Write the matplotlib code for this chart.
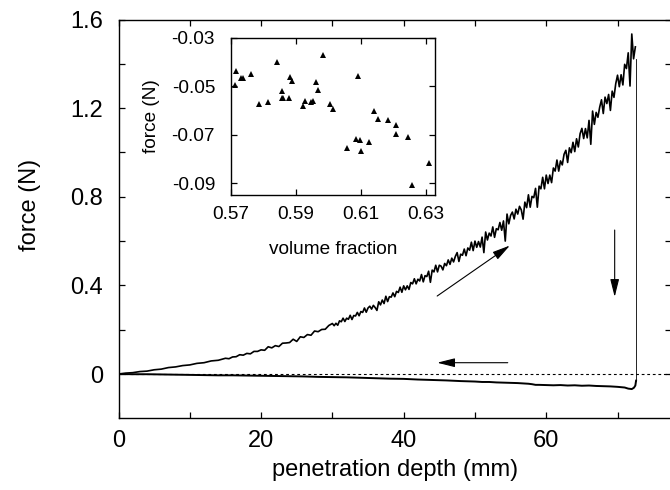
import numpy as np
import matplotlib
matplotlib.use('Agg')
import matplotlib.pyplot as plt

plt.rcParams['font.family'] = ['Liberation Sans', 'DejaVu Sans']

# loading (penetration) curve
depth_load = np.concatenate([np.arange(0, 15, 1.0),
                             np.arange(15, 30, 0.5),
                             np.arange(30, 72.51, 0.25)])
force_load = [
    0.000, 0.004, 0.006, 0.011, 0.013, 0.019, 0.022, 0.029, 0.032, 0.038,
    0.041, 0.048, 0.051, 0.059, 0.062,
    0.071, 0.069, 0.077, 0.078, 0.087, 0.085, 0.093, 0.091, 0.102, 0.102,
    0.109, 0.107, 0.123, 0.118, 0.128, 0.124, 0.139, 0.140, 0.142, 0.157,
    0.147, 0.168, 0.165, 0.178, 0.175, 0.194, 0.191, 0.201, 0.202, 0.219,
    0.228, 0.218, 0.229, 0.220, 0.240, 0.236, 0.252, 0.237, 0.252, 0.247,
    0.265, 0.246, 0.264, 0.262, 0.278, 0.263, 0.282, 0.278, 0.298, 0.279,
    0.298, 0.306, 0.293, 0.310, 0.300, 0.287, 0.326, 0.312, 0.334, 0.318,
    0.351, 0.327, 0.349, 0.347, 0.366, 0.349, 0.373, 0.368, 0.392, 0.369,
    0.398, 0.380, 0.398, 0.382, 0.413, 0.407, 0.430, 0.407, 0.428, 0.420,
    0.449, 0.416, 0.444, 0.440, 0.464, 0.414, 0.469, 0.461, 0.491, 0.461,
    0.491, 0.487, 0.470, 0.499, 0.489, 0.515, 0.495, 0.523, 0.506, 0.531,
    0.548, 0.508, 0.541, 0.536, 0.564, 0.534, 0.569, 0.559, 0.595, 0.557,
    0.600, 0.572, 0.598, 0.573, 0.618, 0.548, 0.641, 0.605, 0.636, 0.623,
    0.664, 0.617, 0.656, 0.651, 0.684, 0.649, 0.691, 0.600, 0.722, 0.678,
    0.716, 0.731, 0.700, 0.744, 0.722, 0.757, 0.741, 0.699, 0.776, 0.751,
    0.809, 0.753, 0.802, 0.796, 0.838, 0.753, 0.848, 0.836, 0.888, 0.836,
    0.898, 0.860, 0.898, 0.864, 0.930, 0.916, 0.966, 0.916, 0.962, 0.944,
    0.992, 1.010, 0.955, 1.021, 0.999, 1.046, 1.004, 1.062, 1.025, 1.085,
    1.109, 1.063, 1.108, 1.066, 1.145, 1.037, 1.187, 1.127, 1.181, 1.159,
    1.205, 1.238, 1.176, 1.250, 1.221, 1.262, 1.190, 1.277, 1.249, 1.311,
    1.349, 1.297, 1.351, 1.305, 1.398, 1.379, 1.450, 1.300, 1.535, 1.423,
    1.477,
]

# sudden drop at the turning point
drop_depth = [72.6, 72.6]
drop_force = [1.42, -0.03]

# withdrawal curve
depth_back = [72.6, 72.5, 72.3, 72.0, 71.5, 71.0, 70.0, 69.0, 68.0, 67.0,
              66.0, 65.0, 64.0, 63.0, 62.0, 61.0, 60.0, 59.0, 58.5, 58.0,
              57.5, 57.0, 56.0, 55.0, 54.0, 53.0, 52.0, 51.0, 50.0, 48.0,
              46.0, 44.0, 42.0, 40.0, 38.0, 36.0, 34.0, 32.0, 30.0, 28.0,
              26.0, 24.0, 22.0, 20.0, 18.0, 16.0, 14.0, 12.0, 10.0, 8.0,
              6.0, 4.0, 2.0, 0.0]
force_back = [-0.030, -0.052, -0.062, -0.068, -0.066, -0.061, -0.058, -0.056,
              -0.055, -0.054, -0.052, -0.053, -0.051, -0.052, -0.050, -0.051,
              -0.050, -0.049, -0.049, -0.046, -0.044, -0.043, -0.041, -0.040,
              -0.039, -0.038, -0.036, -0.036, -0.034, -0.032, -0.029, -0.027,
              -0.025, -0.022, -0.021, -0.019, -0.017, -0.015, -0.014, -0.013,
              -0.011, -0.010, -0.009, -0.008, -0.007, -0.006, -0.006, -0.005,
              -0.004, -0.003, -0.002, -0.001, -0.001, 0.000]

# inset: force vs volume fraction
vol_frac = [0.5715, 0.5712, 0.5731, 0.5736, 0.5761, 0.5785, 0.5814, 0.5843,
            0.5858, 0.5856, 0.5861, 0.5878, 0.5883, 0.5888, 0.5921, 0.5927,
            0.5948, 0.5954, 0.5961, 0.5967, 0.5983, 0.6006, 0.6015, 0.6059,
            0.6085, 0.6092, 0.6097, 0.6102, 0.6126, 0.6142, 0.6154, 0.6183,
            0.6208, 0.6208, 0.6247, 0.6257, 0.6312]
inset_force = [-0.0437, -0.0493, -0.0468, -0.0464, -0.0450, -0.0574, -0.0565,
               -0.0402, -0.0519, -0.0548, -0.0548, -0.0548, -0.0461, -0.0479,
               -0.0581, -0.0559, -0.0565, -0.0561, -0.0483, -0.0515, -0.0370,
               -0.0572, -0.0594, -0.0754, -0.0718, -0.0459, -0.0723, -0.0768,
               -0.0729, -0.0601, -0.0635, -0.0641, -0.0659, -0.0697, -0.0708,
               -0.0905, -0.0817]

main_xticks = [0, 20, 40, 60]
main_yticks = [0, 0.4, 0.8, 1.2, 1.6]
main_ylabels = ['0', '0.4', '0.8', '1.2', '1.6']
inset_xticks = [0.57, 0.59, 0.61, 0.63]
inset_xlabels = ['0.57', '0.59', '0.61', '0.63']
inset_yticks = [-0.03, -0.05, -0.07, -0.09]
inset_ylabels = ['-0.03', '-0.05', '-0.07', '-0.09']

fig = plt.figure(figsize=(6.7, 4.9), dpi=100)
ax = fig.add_axes([118.5 / 670, (490 - 418.3) / 490, 552.5 / 670, 398.7 / 490])

ax.axhline(0, color='k', lw=0.8, ls=(0, (2.5, 2.5)), zorder=0)
ax.plot(depth_load, force_load, color='k', lw=1.2)
ax.plot(drop_depth, drop_force, color='k', lw=0.6)
ax.plot(depth_back, force_back, color='k', lw=1.4)

ax.set_xlim(0, 77.5)
ax.set_ylim(-0.2, 1.6)
ax.set_xticks(main_xticks)
ax.set_xticks([10, 30, 50, 70], minor=True)
ax.set_yticks(main_yticks)
ax.set_yticklabels(main_ylabels)
ax.set_yticks([0.2, 0.6, 1.0, 1.4], minor=True)
ax.tick_params(which='both', direction='in', top=True, right=True,
               length=4.5, width=0.9, labelsize=17)
ax.tick_params(axis='x', pad=8.6)
ax.tick_params(axis='y', pad=11)
for s in ax.spines.values():
    s.set_linewidth(1.0)
ax.spines['right'].set_visible(False)

ax.set_xlabel('penetration depth (mm)', fontsize=17, va='center')
ax.xaxis.set_label_coords(0.5, -0.13)
ax.set_ylabel('force (N)', fontsize=17, va='center')
ax.yaxis.set_label_coords(-0.16, 0.535)

arrow = dict(arrowstyle='-|>,head_length=0.6,head_width=0.15', color='k',
             lw=0.8, mutation_scale=18, shrinkA=0, shrinkB=0)
ax.annotate('', xy=(54.9, 0.58), xytext=(44.7, 0.352), arrowprops=arrow)
ax.annotate('', xy=(69.6, 0.348), xytext=(69.6, 0.65), arrowprops=arrow)
ax.annotate('', xy=(44.7, 0.051), xytext=(54.6, 0.051), arrowprops=arrow)

# inset
ins = fig.add_axes([231 / 670, (490 - 195) / 490, 204.3 / 670, 157.3 / 490])
ins.plot(vol_frac, inset_force, '^', color='k', ms=4.5, mew=0)
ins.set_xlim(0.57, 0.633)
ins.set_ylim(-0.0948, -0.03)
ins.set_xticks(inset_xticks)
ins.set_xticklabels(inset_xlabels)
ins.set_yticks(inset_yticks)
ins.set_yticklabels(inset_ylabels)
ins.tick_params(direction='in', top=True, right=True, length=4.5, width=0.9,
                labelsize=13.7)
ins.tick_params(axis='x', pad=8.2)
ins.tick_params(axis='y', pad=11.5)
for s in ins.spines.values():
    s.set_linewidth(1.0)
ins.set_xlabel('volume fraction', fontsize=13.7, va='center')
ins.xaxis.set_label_coords(0.5, -0.344)
ins.set_ylabel('force (N)', fontsize=13.7, va='center')
ins.yaxis.set_label_coords(-0.387, 0.5)

fig.savefig('out.png', dpi=100)
